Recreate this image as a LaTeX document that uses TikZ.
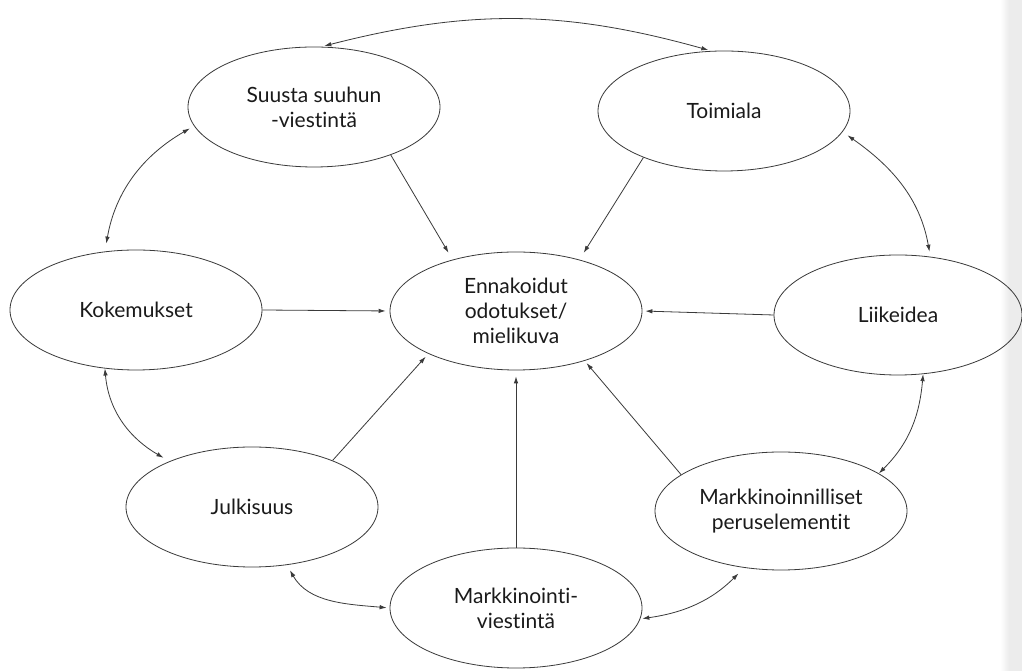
\documentclass[tikz,border=0pt]{standalone}
\usepackage{fontspec}
\setmainfont[Ligatures=NoCommon]{Lato}
\usetikzlibrary{shapes.geometric,arrows.meta}
\definecolor{linec}{HTML}{3A3A3A}
\definecolor{textc}{HTML}{1A1A1A}
\definecolor{stripc}{HTML}{ECECEC}
\begin{document}
\begin{tikzpicture}[x=1pt,y=1pt,
  bubble/.style={ellipse, draw=linec, line width=0.8pt, minimum width=252pt, minimum height=120pt,
    inner sep=0pt, align=center, font=\fontsize{21}{25}\selectfont, text=textc},
  tip/.tip={Latex[length=7pt,width=4.5pt]},
  link/.style={draw=linec, line width=0.8pt, -tip},
  dlink/.style={draw=linec, line width=0.8pt, tip-tip}]
\useasboundingbox (0,0) rectangle (1022,671);
\fill[white] (0,0) rectangle (1022,671);
\shade[left color=white, right color=stripc] (1000,0) rectangle (1009,671);
\fill[stripc] (1009,0) rectangle (1022,671);

\node[bubble] (su) at (314,564) {Suusta suuhun\\-viestintä};
\node[bubble] (to) at (724,560) {Toimiala};
\node[bubble] (ko) at (136,361) {Kokemukset};
\node[bubble, minimum height=118pt] (en) at (516,360) {Ennakoidut\\odotukset/\\mielikuva};
\node[bubble, minimum width=248pt] (li) at (898,356) {Liikeidea};
\node[bubble] (ju) at (252,164) {Julkisuus};
\node[bubble, minimum height=118pt] (me) at (781,160) {Markkinoinnilliset\\peruselementit};
\node[bubble] (mk) at (516,63) {Markkinointi-\\viestintä};

% straight connectors into the centre
\draw[link, shorten >=8pt] (su.-32) -- (en.141);
\draw[link, shorten >=8pt] (to.210) -- (en.39);
\draw[link, shorten >=4pt] (ko.east) -- (en.west);
\draw[link, shorten >=3pt] (li.west) -- (en.east);
\draw[link, shorten >=4pt] (ju.30) -- (en.206);
\draw[link, shorten >=6pt] (mk.north) -- (en.south);
\draw[link, shorten >=3pt] (me.160) -- (en.-36);

% outer ring of two-way arrows
\draw[dlink, shorten <=3pt, shorten >=3pt] (su.83) to[bend left=15] (to.102);
\draw[dlink, shorten <=5pt, shorten >=8pt] (su.189) to[out=210,in=80] (ko.118);
\draw[dlink, shorten >=7pt] (ko.242) to[out=-85,in=150] (ju.151);
\draw[dlink, shorten <=6pt, shorten >=5pt] (to.-10) to[out=-35,in=100] (li.61);
\draw[dlink] (li.-67) to[out=265,in=45] (me.21);
\draw[dlink, shorten <=8pt, shorten >=2pt] (me.237) to[out=225,in=8] (mk.-5);
\draw[dlink, shorten <=6pt, shorten >=3pt] (ju.-59) to[out=300,in=175] (mk.west);
\end{tikzpicture}
\end{document}
